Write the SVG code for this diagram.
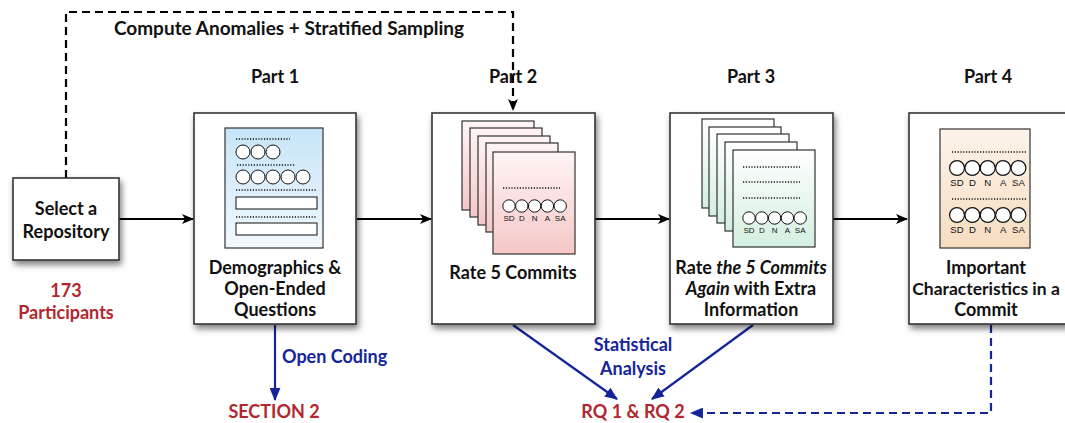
<svg xmlns="http://www.w3.org/2000/svg" width="1065" height="423" viewBox="0 0 1065 423">
  <style>
    .lbl { font-family: Lato, "Liberation Sans", sans-serif; font-weight: 700; font-size: 18px; fill: #111; text-anchor: middle; }
    .red { fill: #b3262d; }
    .blue { fill: #14259a; }
    .box { fill: #fff; stroke: #333; stroke-width: 1.6; filter: url(#shadow); }
    .page { stroke: #333; stroke-width: 1.2; }
    .dots { stroke: #111; stroke-width: 1.3; stroke-dasharray: 1.2 1.6; fill: none; }
    .opt { fill: #fff; stroke: #111; stroke-width: 1; }
    .scale { font-family: "Liberation Sans", Arial, sans-serif; font-size: 8px; fill: #111; text-anchor: middle; }
    .flow { stroke: #000; stroke-width: 2.2; fill: none; }
    .res { stroke: #14259a; stroke-width: 2.2; fill: none; }
  </style>
  <defs>
    <filter id="shadow" x="-10%" y="-10%" width="125%" height="125%">
      <feDropShadow dx="2" dy="4" stdDeviation="3" flood-color="#000" flood-opacity="0.5"/>
    </filter>
    <linearGradient id="gBlue" x1="0" y1="0" x2="0" y2="1">
      <stop offset="0" stop-color="#c6e4f7"/>
      <stop offset="1" stop-color="#f2f9fe"/>
    </linearGradient>
    <linearGradient id="gPink" x1="0" y1="0" x2="0" y2="1">
      <stop offset="0" stop-color="#fff4f4"/>
      <stop offset="1" stop-color="#f5c7c7"/>
    </linearGradient>
    <linearGradient id="gGreen" x1="0" y1="0" x2="0" y2="1">
      <stop offset="0" stop-color="#ffffff"/>
      <stop offset="1" stop-color="#d3efdf"/>
    </linearGradient>
    <linearGradient id="gPeach" x1="0" y1="0" x2="0" y2="1">
      <stop offset="0" stop-color="#fdf4ea"/>
      <stop offset="1" stop-color="#f5dcc0"/>
    </linearGradient>
    <marker id="ahBlack" viewBox="0 0 12 10" refX="11" refY="5" markerWidth="12" markerHeight="10" markerUnits="userSpaceOnUse" orient="auto">
      <path d="M0,0 L12,5 L0,10 L3,5 z" fill="#000"/>
    </marker>
    <marker id="ahBlue" viewBox="0 0 12 10" refX="11" refY="5" markerWidth="13" markerHeight="11" markerUnits="userSpaceOnUse" orient="auto">
      <path d="M0,0 L12,5 L0,10 z" fill="#14259a"/>
    </marker>
    <!-- five-point rating row: circles with SD..SA captions -->
    <g id="rate">
      <circle class="opt" cx="0" cy="0" r="6.2"/>
      <circle class="opt" cx="12.8" cy="0" r="6.2"/>
      <circle class="opt" cx="25.6" cy="0" r="6.2"/>
      <circle class="opt" cx="38.4" cy="0" r="6.2"/>
      <circle class="opt" cx="51.2" cy="0" r="6.2"/>
      <text class="scale" x="0" y="15">SD</text>
      <text class="scale" x="12.8" y="15">D</text>
      <text class="scale" x="25.6" y="15">N</text>
      <text class="scale" x="38.4" y="15">A</text>
      <text class="scale" x="51.2" y="15">SA</text>
    </g>
  </defs>

  <rect width="1065" height="423" fill="#fff"/>

  <!-- connectors -->
  <g id="connectors">
    <path class="flow" d="M66,178 V12 H513 V110" stroke-dasharray="8 5" marker-end="url(#ahBlack)"/>
    <line class="flow" x1="119" y1="219" x2="193" y2="219" marker-end="url(#ahBlack)"/>
    <line class="flow" x1="357" y1="219" x2="431" y2="219" marker-end="url(#ahBlack)"/>
    <line class="flow" x1="595" y1="219" x2="669" y2="219" marker-end="url(#ahBlack)"/>
    <line class="flow" x1="833" y1="219" x2="907" y2="219" marker-end="url(#ahBlack)"/>
    <line class="res" x1="275" y1="325" x2="275" y2="400" marker-end="url(#ahBlue)"/>
    <line class="res" x1="513" y1="325" x2="617" y2="399" marker-end="url(#ahBlue)"/>
    <line class="res" x1="753" y1="325" x2="652" y2="399" marker-end="url(#ahBlue)"/>
    <path class="res" d="M991,325 V413 H691" stroke-dasharray="8 5" marker-end="url(#ahBlue)"/>
  </g>

  <text class="lbl" x="289" y="35" style="font-size:19px">Compute Anomalies + Stratified Sampling</text>

  <!-- start node -->
  <g id="select-repository">
    <rect class="box" x="13" y="178" width="106" height="82"/>
    <text class="lbl" x="66" y="215">Select a</text>
    <text class="lbl" x="66" y="238">Repository</text>
    <text class="lbl red" x="66" y="297">173</text>
    <text class="lbl red" x="66" y="319">Participants</text>
  </g>

  <!-- Part 1: questionnaire -->
  <g id="part1">
    <text class="lbl" x="275" y="83">Part 1</text>
    <rect class="box" x="194" y="113" width="162" height="211"/>
    <rect class="page" x="225" y="128" width="98" height="120" fill="url(#gBlue)"/>
    <line class="dots" x1="236" y1="139" x2="290" y2="139"/>
    <circle class="opt" cx="243" cy="152" r="7"/>
    <circle class="opt" cx="258" cy="152" r="7"/>
    <circle class="opt" cx="273" cy="152" r="7"/>
    <line class="dots" x1="237" y1="165" x2="295" y2="165"/>
    <circle class="opt" cx="243" cy="177" r="7"/>
    <circle class="opt" cx="258" cy="177" r="7"/>
    <circle class="opt" cx="273" cy="177" r="7"/>
    <circle class="opt" cx="288" cy="177" r="7"/>
    <circle class="opt" cx="303" cy="177" r="7"/>
    <line class="dots" x1="236" y1="190" x2="317" y2="190"/>
    <rect class="opt" x="236" y="197" width="81" height="12"/>
    <line class="dots" x1="236" y1="217" x2="317" y2="217"/>
    <rect class="opt" x="236" y="223" width="81" height="12"/>
    <text class="lbl" x="275" y="274">Demographics &amp;</text>
    <text class="lbl" x="275" y="295">Open-Ended</text>
    <text class="lbl" x="275" y="316">Questions</text>
  </g>

  <!-- Part 2: rate commits -->
  <g id="part2">
    <text class="lbl" x="513" y="83">Part 2</text>
    <rect class="box" x="432" y="113" width="163" height="211"/>
    <rect class="page" x="462" y="121" width="72" height="89" fill="url(#gPink)"/>
    <rect class="page" x="470" y="128" width="72" height="89" fill="url(#gPink)"/>
    <rect class="page" x="478" y="136" width="72" height="89" fill="url(#gPink)"/>
    <rect class="page" x="486" y="143" width="72" height="89" fill="url(#gPink)"/>
    <rect class="page" x="493" y="152" width="82" height="102" fill="url(#gPink)"/>
    <line class="dots" x1="503" y1="188" x2="560" y2="188"/>
    <use href="#rate" x="509" y="206"/>
    <text class="lbl" x="513" y="279">Rate 5 Commits</text>
  </g>

  <!-- Part 3: rate again with extra information -->
  <g id="part3">
    <text class="lbl" x="751" y="83">Part 3</text>
    <rect class="box" x="670" y="113" width="163" height="211"/>
    <rect class="page" x="702" y="119" width="72" height="89" fill="url(#gGreen)"/>
    <rect class="page" x="709" y="127" width="72" height="89" fill="url(#gGreen)"/>
    <rect class="page" x="717" y="134" width="72" height="89" fill="url(#gGreen)"/>
    <rect class="page" x="725" y="142" width="72" height="89" fill="url(#gGreen)"/>
    <rect class="page" x="733" y="150" width="82" height="97" fill="url(#gGreen)"/>
    <line class="dots" x1="743" y1="167" x2="800" y2="167"/>
    <line class="dots" x1="743" y1="182" x2="800" y2="182"/>
    <line class="dots" x1="743" y1="198" x2="800" y2="198"/>
    <use href="#rate" x="749" y="218"/>
    <text class="lbl" x="751" y="274">Rate <tspan font-style="italic">the 5 Commits</tspan></text>
    <text class="lbl" x="751" y="295"><tspan font-style="italic">Again</tspan> with Extra</text>
    <text class="lbl" x="751" y="316">Information</text>
  </g>

  <!-- Part 4: important characteristics -->
  <g id="part4">
    <text class="lbl" x="988" y="83">Part 4</text>
    <rect class="box" x="909" y="113" width="160" height="211"/>
    <rect class="page" x="940" y="129" width="90" height="119" fill="url(#gPeach)"/>
    <line class="dots" x1="952" y1="152" x2="1026" y2="152"/>
    <use href="#rate" x="957" y="168" transform="translate(957 168) scale(1.2) translate(-957 -168)"/>
    <line class="dots" x1="952" y1="199" x2="1026" y2="199"/>
    <use href="#rate" x="957" y="215" transform="translate(957 215) scale(1.2) translate(-957 -215)"/>
    <text class="lbl" x="986" y="274">Important</text>
    <text class="lbl" x="986" y="295" style="font-size:17.5px">Characteristics in a</text>
    <text class="lbl" x="986" y="316">Commit</text>
  </g>

  <!-- analysis labels and results -->
  <g id="results">
    <text class="lbl blue" x="282" y="363" style="text-anchor:start">Open Coding</text>
    <text class="lbl blue" x="633" y="351">Statistical</text>
    <text class="lbl blue" x="633" y="375">Analysis</text>
    <text class="lbl red" x="274" y="418">SECTION 2</text>
    <text class="lbl red" x="633" y="418">RQ 1 &amp; RQ 2</text>
  </g>
</svg>
